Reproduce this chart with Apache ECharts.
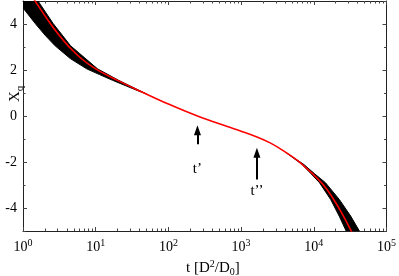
<!DOCTYPE html>
<html>
<head>
<meta charset="utf-8">
<script src="https://cdn.jsdelivr.net/npm/echarts@6/dist/echarts.min.js"></script>
<style>html,body{margin:0;padding:0;background:#fff}#c{width:399px;height:276px}</style>
</head>
<body>
<div id="c"></div>
<script>
// Red (mean) curve
var redT = [1.0, 1.43, 2.37, 3.16, 4.18, 6.31, 10, 20, 39.8, 100, 251, 631, 1000, 1585, 2512, 3981, 6918, 12590, 17780, 25120, 31620, 39810];
var redX = [5.8, 5.05, 4.02, 3.5, 3.05, 2.5, 2.05, 1.55, 1.1, 0.52, 0.0, -0.45, -0.66, -0.89, -1.17, -1.55, -2.1, -2.88, -3.51, -4.31, -4.91, -5.55];

// Black band of individual curves (edges), early-time part
var bandTopLowT = [0.675, 1.0, 1.474, 2.03, 2.77, 4.46, 7.53, 11.3, 17.1, 26.6, 37.9, 50.5];
var bandTopLowX = [5.5, 4.7, 4.02, 3.5, 3.05, 2.5, 2.05, 1.8, 1.55, 1.3, 1.1, 0.95];
var bandTopHighT = [1.27, 1.61, 2.60, 4.52, 10.6, 20.7, 50.5];
var bandTopHighX = [5.5, 5.0, 4.02, 3.05, 2.05, 1.55, 0.95];
// late-time part
var bandBotLowT = [4190, 6850, 9100, 11970, 17060, 22340, 27860, 34200];
var bandBotLowX = [-1.6, -2.1, -2.5, -2.9, -3.63, -4.35, -5.0, -5.6];
var bandBotHighT = [4190, 7250, 10160, 14460, 22440, 32140, 42390, 54080];
var bandBotHighX = [-1.6, -2.1, -2.5, -2.9, -3.63, -4.35, -5.0, -5.6];

// arrows
var arrowT = [251, 1650];
var arrowTailX = [-1.23, -2.76];
var arrowTipX = [-0.62, -1.6];
var arrowLabel = ['t\u2019', 't\u2019\u2019'];
var arrowLabelX = [-2.32, -3.27];

var yMajor = [-4, -2, 0, 2, 4];
var yMinor = [-5, -3, -1, 1, 3, 5];
var xMinor = [];
for (var k = 0; k < 5; k++) for (var m = 2; m < 10; m++) xMinor.push(m * Math.pow(10, k));

var FONT = 'Liberation Serif';

function pairs(t, x) { return t.map(function (v, i) { return [v, x[i]]; }); }
var bands = [
  [pairs(bandTopLowT, bandTopLowX), pairs(bandTopHighT, bandTopHighX)],
  [pairs(bandBotLowT, bandBotLowX), pairs(bandBotHighT, bandBotHighX)]
];

var chart = echarts.init(document.getElementById('c'), null, {renderer: 'canvas'});
var axCol = '#222';
function xAx(pos, minor, labels) {
  return {
    type: 'log', logBase: 10, min: 1, max: 100000, position: pos, gridIndex: 0,
    axisLine: {show: !minor, onZero: false, lineStyle: {color: axCol, width: 1}},
    axisTick: minor ? {show: true, inside: true, length: 2.5, customValues: xMinor, lineStyle: {color: '#444'}}
                    : {show: true, inside: true, length: 4, lineStyle: {color: '#444'}},
    axisLabel: labels ? {
      show: true, margin: 7, fontFamily: FONT,
      formatter: function (v) { return '{b|10}{s|' + Math.round(Math.log10(v)) + '}'; },
      rich: {
        b: {fontSize: 14, fontFamily: FONT, color: '#000', lineHeight: 16, verticalAlign: 'bottom'},
        s: {fontSize: 10, fontFamily: FONT, color: '#000', lineHeight: 10, verticalAlign: 'top'}
      }
    } : {show: false},
    splitLine: {show: false}
  };
}
function yAx(pos, minor, labels) {
  return {
    type: 'value', min: -5, max: 5, position: pos, gridIndex: 0,
    axisLine: {show: !minor, onZero: false, lineStyle: {color: axCol, width: 1}},
    axisTick: {show: true, inside: true, length: minor ? 2.5 : 4, customValues: minor ? yMinor : yMajor, lineStyle: {color: '#444'}},
    axisLabel: labels ? {show: true, customValues: yMajor, margin: 6, fontFamily: FONT, fontSize: 14, color: '#000'} : {show: false},
    splitLine: {show: false}
  };
}

var option = {
  animation: false,
  grid: {left: 23, right: 12, top: 1, bottom: 45},
  xAxis: [xAx('bottom', false, true), xAx('bottom', true, false), xAx('top', false, false), xAx('top', true, false)],
  yAxis: [yAx('left', false, true), yAx('left', true, false), yAx('right', false, false), yAx('right', true, false)],
  graphic: [
    {type: 'text', x: 8, y: 102, rotation: Math.PI / 2,
     style: {text: '{a|X}{q|q}', rich: {a: {fontSize: 15, fontFamily: FONT, fill: '#000', lineHeight: 18, verticalAlign: 'top'}, q: {fontSize: 11, fontFamily: FONT, fill: '#000', lineHeight: 11, verticalAlign: 'bottom'}}}},
    {type: 'text', x: 186, y: 259,
     style: {text: '{a|t [D}{p|2}{a|/D}{b|0}{a|]}', rich: {
       a: {fontSize: 15, fontFamily: FONT, fill: '#000', lineHeight: 18, verticalAlign: 'middle'},
       p: {fontSize: 10, fontFamily: FONT, fill: '#000', lineHeight: 10, verticalAlign: 'top'},
       b: {fontSize: 10, fontFamily: FONT, fill: '#000', lineHeight: 10, verticalAlign: 'bottom'}}}}
  ],
  series: [
    {
      type: 'custom', coordinateSystem: 'cartesian2d', xAxisIndex: 0, yAxisIndex: 0, clip: true,
      data: [[1, 0], [1, 0]],
      renderItem: function (params, api) {
        var b = bands[params.dataIndex];
        var pts = b[0].map(function (p) { return api.coord(p); });
        var hi = b[1].slice().reverse().map(function (p) { return api.coord(p); });
        return {type: 'polygon', shape: {points: pts.concat(hi)}, style: {fill: '#000', stroke: '#000', lineWidth: 1, lineJoin: 'round'}};
      },
      silent: true, z: 2
    },
    {
      type: 'line', xAxisIndex: 0, yAxisIndex: 0, data: pairs(redT, redX), smooth: 0.4,
      showSymbol: false, symbol: 'none', clip: true,
      lineStyle: {color: '#ff0000', width: 1.6}, z: 3,
      markLine: {
        silent: true, symbol: ['none', 'triangle'], symbolSize: [7, 10],
        lineStyle: {color: '#000', width: 2, type: 'solid'}, label: {show: false},
        data: arrowT.map(function (t, i) { return [{coord: [t, arrowTailX[i]]}, {coord: [t, arrowTipX[i]]}]; })
      }
    },
    {
      type: 'scatter', xAxisIndex: 0, yAxisIndex: 0, symbolSize: 0,
      itemStyle: {opacity: 1},
      data: pairs(arrowT, arrowLabelX),
      label: {show: true, position: 'inside', fontFamily: FONT, fontSize: 15, color: '#000',
              formatter: function (p) { return arrowLabel[p.dataIndex]; }},
      z: 4
    }
  ]
};
chart.setOption(option);
</script>
</body>
</html>
